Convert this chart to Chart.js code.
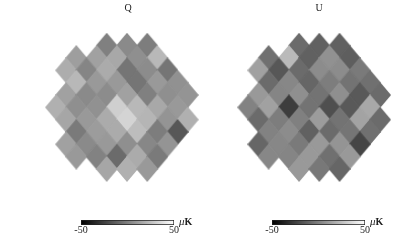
<!DOCTYPE html>
<html>
<head>
<meta charset="utf-8">
<script src="https://cdn.jsdelivr.net/npm/chart.js@4"></script>
<style>
  html, body { margin: 0; padding: 0; background: #fff; overflow: hidden; }
  canvas { position: absolute; filter: blur(0.35px); }
</style>
</head>
<body>
<canvas id="mapQ" style="left:37px;top:0" width="182" height="210"></canvas>
<canvas id="mapU" style="left:228px;top:0" width="182" height="210"></canvas>
<canvas id="barQ" style="left:70px;top:212px" width="125" height="28"></canvas>
<canvas id="barU" style="left:261px;top:212px" width="125" height="28"></canvas>
<script>
// first column of each lattice row, columns step by 2
const rowStart = [0, -3, -4, -3, -4, -5, -4, -3, -4, -3, 0];

// pixel values in microK
const qValues = [
    [0, 4, -1],
    [12, 13, 16, 6, 22],
    [18, 2, 17, -4, 5, -4],
    [22, 10, 10, -4, 10, 7],
    [13, 4, 5, 13, 0, 6, 8],
    [19, 6, 7, 31, 22, 16, 10],
    [15, 10, 17, 33, 21, 8, 19],
    [-2, 11, 17, 24, -1, -16],
    [13, 4, 10, 6, 3, 8],
    [10, 1, -8, 17, -2],
    [15, 19, 10]
];
const uValues = [
    [-8, -12, -12],
    [-6, 23, -12, 7, -13],
    [13, -16, -8, 5, 5, -2],
    [-8, 3, -10, -1, -5, -6],
    [10, 2, 6, -5, 6, -15, -8],
    [1, 13, -26, -5, -19, -15, 16],
    [-8, -1, 0, 11, -5, 14, -8],
    [1, 5, -12, -8, -4, -6],
    [-10, 3, -2, 10, 8, -23],
    [3, 2, 10, -6, 10],
    [10, -3, -10]
];
const barRange = [-50, 50];
const barTicks = [-50, 50];

const CELL_W = 10.13;
const CELL_H = 12.33;
const SERIF = '"Liberation Serif", serif';

function grayOf(v) {
    const g = Math.round((v + 50) / 100 * 255);
    return 'rgb(' + g + ',' + g + ',' + g + ')';
}

// diamonds are taller than wide, so rectRot won't do. one sprite per value
const sprites = {};
function sprite(v) {
    if (sprites[v]) return sprites[v];
    const c = document.createElement('canvas');
    c.width = Math.ceil(CELL_W * 2) + 1;
    c.height = Math.ceil(CELL_H * 2) + 1;
    const g = c.getContext('2d');
    g.fillStyle = grayOf(v);
    g.beginPath();
    g.moveTo(c.width / 2, 0);
    g.lineTo(c.width, c.height / 2);
    g.lineTo(c.width / 2, c.height);
    g.lineTo(0, c.height / 2);
    g.closePath();
    g.fill();
    sprites[v] = c;
    return c;
}

function latticePoints(values) {
    const pts = [];
    values.forEach((row, b) => {
        row.forEach((v, k) => {
            pts.push({ x: rowStart[b] + k * 2, y: b, v: v });
        });
    });
    return pts;
}

function drawMap(id, title, values, xMin) {
    new Chart(document.getElementById(id), {
        type: 'scatter',
        data: {
            datasets: [{
                data: latticePoints(values),
                pointStyle: ctx => sprite(ctx.raw.v),
                pointRadius: 10,
                pointHoverRadius: 10
            }]
        },
        options: {
            responsive: false,
            animation: false,
            layout: { padding: 0, autoPadding: false },
            scales: {
                x: { display: false, min: xMin, max: xMin + 182 / CELL_W },
                y: { display: false, reverse: true, min: -2.41, max: 13.33 }
            },
            plugins: {
                legend: { display: false },
                tooltip: { enabled: false },
                title: {
                    display: true,
                    text: title,
                    color: '#222',
                    font: { family: SERIF, size: 10, weight: 'normal', lineHeight: 1.2 },
                    padding: { top: 2, bottom: 2 }
                }
            }
        }
    });
}

const unitLabel = {
    id: 'unitLabel',
    afterDraw(chart) {
        const { ctx, chartArea } = chart;
        ctx.save();
        ctx.fillStyle = '#222';
        ctx.textBaseline = 'alphabetic';
        ctx.textAlign = 'left';
        ctx.font = 'italic 11px ' + SERIF;
        ctx.fillText('\u03bc', chartArea.right + 5, chartArea.bottom);
        const muW = ctx.measureText('\u03bc').width;
        ctx.font = 'bold 10px ' + SERIF;
        ctx.fillText('K', chartArea.right + 5 + muW, chartArea.bottom);
        ctx.restore();
    }
};

function drawBar(id) {
    new Chart(document.getElementById(id), {
        type: 'bar',
        data: {
            labels: [''],
            datasets: [{
                data: [barRange],
                backgroundColor: ctx => {
                    const area = ctx.chart.chartArea;
                    if (!area) return '#888';
                    const g = ctx.chart.ctx.createLinearGradient(area.left, 0, area.right, 0);
                    g.addColorStop(0, '#000');
                    g.addColorStop(1, '#fff');
                    return g;
                },
                borderColor: '#222',
                borderWidth: 1,
                borderSkipped: false,
                barPercentage: 1,
                categoryPercentage: 1
            }]
        },
        options: {
            responsive: false,
            animation: false,
            indexAxis: 'y',
            layout: { padding: { left: 11, right: 21, top: 8, bottom: 4 }, autoPadding: false },
            scales: {
                x: {
                    min: barRange[0],
                    max: barRange[1],
                    // layout caps the axis at half the free height, which cuts the labels
                    afterFit: axis => { axis.height = 11; },
                    grid: { display: false, drawTicks: false },
                    border: { display: false },
                    ticks: {
                        stepSize: 100,
                        autoSkip: false,
                        maxRotation: 0,
                        padding: -1,
                        color: '#222',
                        font: { family: SERIF, size: 10 },
                        // the axis also adds a tick at 0, the picture only labels the ends
                        callback: v => barTicks.includes(v) ? String(v) : ''
                    }
                },
                y: { display: false }
            },
            plugins: { legend: { display: false }, tooltip: { enabled: false } }
        },
        plugins: [unitLabel]
    });
}

drawMap('mapQ', 'Q', qValues, -6.88);
drawMap('mapU', 'U', uValues, -7.01);
drawBar('barQ');
drawBar('barU');
</script>
</body>
</html>
